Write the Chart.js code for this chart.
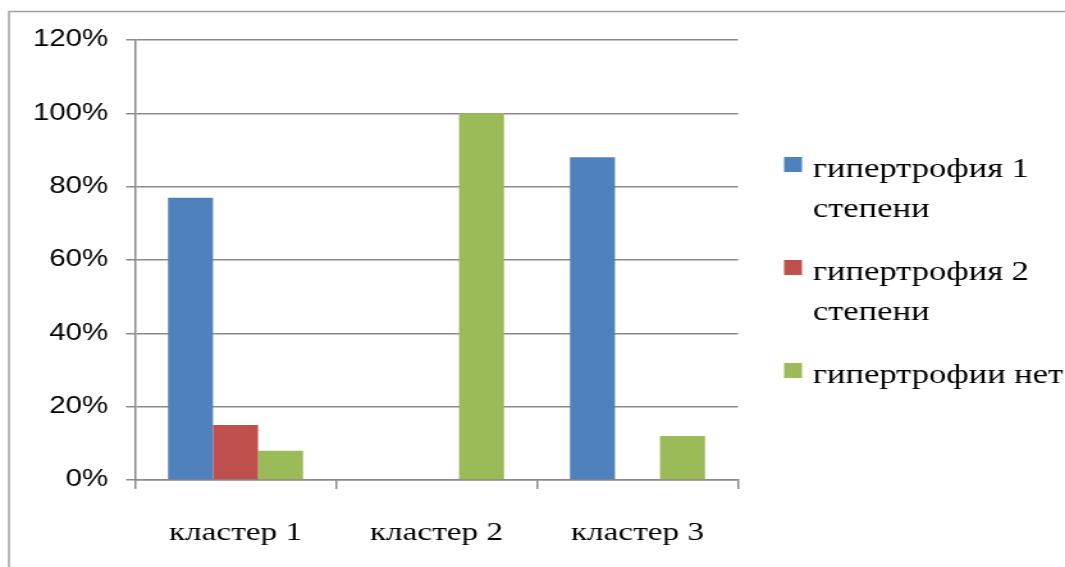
<!DOCTYPE html>
<html>
<head>
<meta charset="utf-8">
<script src="https://cdn.jsdelivr.net/npm/chart.js@4/dist/chart.umd.min.js"></script>
<style>
  html, body { margin: 0; padding: 0; background: #fff; overflow: hidden; }
  #wrap { width: 832px; height: 567px; transform: scaleX(1.28005); transform-origin: 0 0; }
  canvas { display: block; }
  .preload { position: absolute; left: -9999px; top: 0; }
</style>
</head>
<body>
<div class="preload" style="font-family:'Liberation Serif'">кластер гипертрофия 123</div>
<div class="preload" style="font-family:'Liberation Sans'">120%</div>
<div id="wrap"><canvas id="chart" width="832" height="567"></canvas></div>
<script>
// Categories and series (shares of patients per cluster)
const categories = ['кластер 1', 'кластер 2', 'кластер 3'];
const seriesNames = ['гипертрофия 1 степени', 'гипертрофия 2 степени', 'гипертрофии нет'];
const hypertrophy1 = [0.77, 0, 0.88];
const hypertrophy2 = [0.15, 0, 0];
const noHypertrophy = [0.08, 1.00, 0.12];
const seriesColors = ['#4F81BD', '#C0504D', '#9BBB59'];
const yTicks = [0, 0.2, 0.4, 0.6, 0.8, 1.0, 1.2];

const GRID = '#8a8a8a';
const SERIF = '"Liberation Serif", "Times New Roman", serif';
const SANS = '"Liberation Sans", Arial, sans-serif';

// Outer frame of the chart object
const framePlugin = {
  id: 'frame',
  beforeDraw(chart) {
    const ctx = chart.ctx;
    ctx.save();
    ctx.strokeStyle = '#a0a0a0';
    ctx.lineWidth = 1.5;
    ctx.beginPath();
    ctx.moveTo(7, 567);
    ctx.lineTo(7, 11.5);
    ctx.lineTo(chart.width, 11.5);
    ctx.stroke();
    ctx.restore();
  }
};

// Legend on the right with wrapped labels
const sideLegend = {
  id: 'sideLegend',
  afterDraw(chart) {
    const ctx = chart.ctx;
    ctx.save();
    ctx.font = '27px ' + SERIF;
    ctx.textBaseline = 'alphabetic';
    ctx.textAlign = 'left';
    const textX = 635, boxX = 612.5, maxW = 200, lineH = 39.5, gap = 24;
    let y = 177;
    chart.data.datasets.forEach(ds => {
      const words = ds.label.split(' ');
      const lines = [];
      let cur = '';
      words.forEach(w => {
        const t = cur ? cur + ' ' + w : w;
        if (cur && ctx.measureText(t).width > maxW) { lines.push(cur); cur = w; }
        else cur = t;
      });
      if (cur) lines.push(cur);
      ctx.fillStyle = ds.backgroundColor;
      ctx.fillRect(boxX, y - 20, 14, 15);
      ctx.fillStyle = '#000';
      lines.forEach((ln, i) => ctx.fillText(ln, textX, y + i * lineH));
      y += lines.length * lineH + gap;
    });
    ctx.restore();
  }
};

const seriesData = [hypertrophy1, hypertrophy2, noHypertrophy];

function drawChart() {
  new Chart(document.getElementById('chart'), {
    type: 'bar',
    data: {
      labels: categories,
      datasets: seriesNames.map((name, i) => ({
        label: name,
        data: seriesData[i],
        backgroundColor: seriesColors[i],
        borderWidth: 0,
        categoryPercentage: 0.672,
        barPercentage: 1.0
      }))
    },
    options: {
      responsive: false,
      animation: false,
      devicePixelRatio: 1,
      layout: { padding: { left: 0, right: 255.5, top: 40, bottom: 0 } },
      plugins: { legend: { display: false }, tooltip: { enabled: false } },
      scales: {
        x: {
          afterFit(scale) { scale.height = 87; },
          grid: { drawOnChartArea: false, drawTicks: true, tickLength: 9, color: GRID, lineWidth: 1.5, offset: true },
          border: { display: true, color: GRID, width: 1.5 },
          ticks: {
            color: '#000',
            padding: 29,
            font: { family: SERIF, size: 26 }
          }
        },
        y: {
          min: 0,
          max: 1.2,
          afterFit(scale) { scale.width = 105.5; },
          afterBuildTicks(scale) { scale.ticks = yTicks.map(v => ({ value: v })); },
          grid: { color: GRID, lineWidth: 1.5, tickLength: 7, drawTicks: true },
          border: { display: true, color: GRID, width: 1.5 },
          ticks: {
            color: '#000',
            padding: 14,
            font: { family: SANS, size: 23 },
            callback: v => Math.round(v * 100) + '%'
          }
        }
      }
    },
    plugins: [framePlugin, sideLegend]
  });
}

// Make sure the fonts are ready before the canvas text is drawn
let drawn = false;
function once() { if (!drawn) { drawn = true; drawChart(); } }
Promise.all([
  document.fonts.load('27px "Liberation Serif"', 'кластер гипертрофия 1'),
  document.fonts.load('23px "Liberation Sans"', '120%')
]).then(() => document.fonts.ready).then(once, once);
setTimeout(once, 1500);
</script>
</body>
</html>
